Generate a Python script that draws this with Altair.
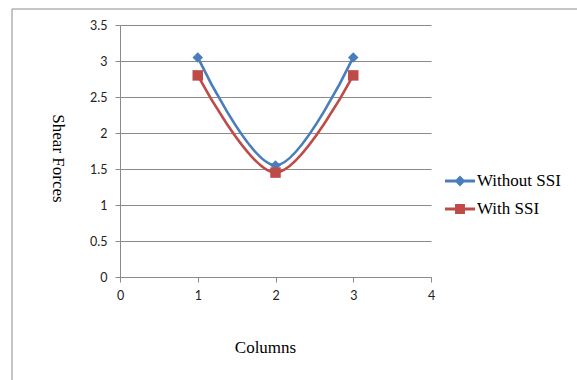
import altair as alt
import pandas as pd

columns = [1, 2, 3]
without_ssi = [3.05, 1.55, 3.05]
with_ssi = [2.8, 1.45, 2.8]
series_names = ["Without SSI", "With SSI"]
colors = ["#4A7EBB", "#BE4B48"]

df = pd.DataFrame(
    {"Columns": columns * 2,
     "Shear": without_ssi + with_ssi,
     "series": [series_names[0]] * 3 + [series_names[1]] * 3}
)

GRID = "#8a8a8a"
SERIF = "Liberation Serif"
SANS = "Lato"

x_enc = alt.X(
    "Columns:Q",
    scale=alt.Scale(domain=[0, 4], nice=False, zero=False),
    axis=alt.Axis(values=[0, 1, 2, 3, 4], format="d", grid=False, title="Columns",
                  titleX=145, titleY=70, titleAlign="center", titleBaseline="middle",
                  titleFont=SERIF, titleFontSize=17, titleFontWeight="normal", titleColor="#000000",
                  labelFont=SANS, labelFontSize=12.5, labelColor="#222222", labelPadding=7,
                  labelFlush=False, labelOverlap=False,
                  domainColor=GRID, tickColor=GRID, tickSize=5),
)
y_enc = alt.Y(
    "Shear:Q",
    scale=alt.Scale(domain=[0, 3.5], nice=False),
    axis=alt.Axis(values=[0, 0.5, 1, 1.5, 2, 2.5, 3, 3.5], format="~g", grid=True, gridColor=GRID,
                  title="Shear Forces", titleAngle=90, titleX=-63, titleY=133,
                  titleAlign="center", titleBaseline="middle",
                  titleFont=SERIF, titleFontSize=17, titleFontWeight="normal", titleColor="#000000",
                  labelFont=SANS, labelFontSize=12.5, labelColor="#222222", labelPadding=8,
                  labelFlush=False, labelOverlap=False,
                  domainColor=GRID, tickColor=GRID, tickSize=5),
)

line_part = "M-1,-0.1H1V0.1H-1Z"
diamond_leg = line_part + " M0,-0.36L0.36,0L0,0.36L-0.36,0Z"
square_leg = line_part + " M-0.33,-0.33H0.33V0.33H-0.33Z"


def series_layers(i, shape, msize, leg_path, leg_y):
    sub = alt.Chart(df).transform_filter(alt.datum.series == series_names[i])
    scale = alt.Scale(domain=[series_names[i]], range=[colors[i]])
    line = sub.mark_line(interpolate="catmull-rom", strokeWidth=2.6).encode(
        x=x_enc, y=y_enc, color=alt.Color("series:N", scale=scale, legend=None)
    )
    pts = sub.mark_point(shape=shape, filled=True, size=msize, opacity=1).encode(
        x=x_enc, y=y_enc,
        color=alt.Color(
            "series:N", scale=scale,
            legend=alt.Legend(title=None, orient="none", legendX=325, legendY=leg_y,
                              symbolType=leg_path, symbolSize=900, symbolStrokeWidth=0,
                              symbolOpacity=1,
                              labelFont=SERIF, labelFontSize=17, labelColor="#000000",
                              labelOffset=2, padding=0),
        ),
    )
    return [line, pts]


frame = alt.Chart(alt.Data(values=[{}])).mark_rect(
    fillOpacity=0, stroke="#8c8c8c", strokeWidth=1
).encode(x=alt.value(-108), x2=alt.value(700), y=alt.value(-16), y2=alt.value(500))

chart = alt.layer(
    frame,
    *series_layers(0, "diamond", 110, diamond_leg, 141),
    *series_layers(1, "square", 110, square_leg, 169),
).resolve_scale(color="independent").properties(
    width=311, height=252,
    autosize=alt.AutoSizeParams(type="none"),
    padding={"left": 120, "top": 25, "right": 146, "bottom": 103},
    background="white",
).configure_view(strokeWidth=0)

chart.save("out.html", embed_options={"renderer": "svg", "actions": False})
